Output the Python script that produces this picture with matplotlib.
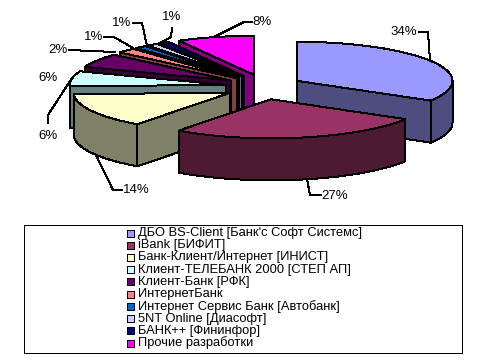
import numpy as np
import matplotlib
matplotlib.use("Agg")
import matplotlib.pyplot as plt

plt.rcParams['font.family'] = ['Liberation Sans', 'DejaVu Sans']

names = ["ДБО BS-Client [Банк'с Софт Системс]", "iBank [БИФИТ]",
         "Банк-Клиент/Интернет [ИНИСТ]", "Клиент-ТЕЛЕБАНК 2000 [СТЕП АП]",
         "Клиент-Банк [РФК]", "ИнтернетБанк",
         "Интернет Сервис Банк [Автобанк]", "5NT Online [Диасофт]",
         "БАНК++ [Фининфор]", "Прочие разработки"]
shares = [33.5, 26.6, 14.4, 6.2, 5.8, 2.0, 1.2, 1.2, 1.1, 8.0]
top_colors = ["#9999FF", "#993366", "#FFFFCC", "#CCFFFF", "#660066",
              "#FF8080", "#0066CC", "#CCCCFF", "#000080", "#FF00FF"]
side_colors = ["#4D4D80", "#4D1A33", "#808066", "#668080", "#330033",
               "#804040", "#003366", "#666680", "#000040", "#800080"]

# pie geometry, in pixels
CX, CY = 263.5, 87
RADIUS = 156
SQUASH = 0.25
DEPTH = 42
EXPLODE = 38
EXPLODE_SQUASH = 0.33
LW = 0.72  # one pixel


def arc_points(x0, y0, a0, a1):
    a = np.radians(np.linspace(a0, a1, 60))
    return x0 + RADIUS * np.sin(a), y0 - RADIUS * SQUASH * np.cos(a)


def draw_wall(ax, xs, ys, color):
    xs = np.asarray(xs)
    ys = np.asarray(ys)
    ax.fill(np.r_[xs, xs[::-1]], np.r_[ys, ys[::-1] + DEPTH], facecolor=color,
            edgecolor="black", lw=LW, antialiased=False)


def draw_slice(ax, a0, a1, top, side):
    mid = np.radians((a0 + a1) / 2)
    x0 = CX + EXPLODE * np.sin(mid)
    y0 = CY - EXPLODE * EXPLODE_SQUASH * np.cos(mid)
    ax_, ay_ = arc_points(x0, y0, a0, a1)
    # cut faces that look towards the viewer
    if np.sin(np.radians(a0)) < -1e-6:
        draw_wall(ax, [x0, ax_[0]], [y0, ay_[0]], side)
    if np.sin(np.radians(a1)) > 1e-6:
        draw_wall(ax, [x0, ax_[-1]], [y0, ay_[-1]], side)
    # front part of the rim
    lo, hi = max(a0, 90), min(a1, 270)
    if hi > lo:
        rx, ry = arc_points(x0, y0, lo, hi)
        draw_wall(ax, rx, ry, side)
    ax.fill(np.r_[x0, ax_], np.r_[y0, ay_], facecolor=top, edgecolor="black",
            lw=LW, antialiased=False)


fig = plt.figure(figsize=(4.97, 3.63), dpi=100)
ax = fig.add_axes([0, 0, 1, 1])
ax.set_xlim(0, 497)
ax.set_ylim(363, 0)
ax.axis("off")

edges = np.r_[0, np.cumsum(shares)] / sum(shares) * 360
mids = (edges[:-1] + edges[1:]) / 2
# back slices first
for i in sorted(range(len(shares)), key=lambda n: -np.cos(np.radians(mids[n]))):
    draw_slice(ax, edges[i], edges[i + 1], top_colors[i], side_colors[i])

# labels with their leader lines, same order as shares
label_pos = [(404, 32), (335, 196), (136, 190), (48, 78), (48, 136),
             (58, 50), (94, 37), (122, 23), (172, 17), (262, 22)]
leaders = [[(419, 32), (428, 32), (430, 60)],
           [(307, 179), (310, 195), (321, 195)],
           [(96, 155), (113, 190), (122, 190)],
           [],
           [(48, 123), (48, 115), (72, 78)],
           [(69, 50), (115, 52)],
           [(104, 37), (114, 37), (133, 48)],
           [(133, 23), (142, 23), (147, 46)],
           [(172, 28), (171, 37), (158, 44)],
           [(252, 22), (244, 22), (214, 37)]]
for share, pos, line in zip(shares, label_pos, leaders):
    ax.text(pos[0], pos[1], "%d%%" % round(share), ha="center", va="center",
            fontsize=9.5, color="black")
    if line:
        ax.plot(*zip(*line), color="black", lw=LW, antialiased=False)

# frame round the legend
ax.plot([24, 462, 462, 24, 24], [225, 225, 353, 353, 225], color="black", lw=LW,
        antialiased=False)

rows = np.linspace(233, 343, len(names))
for name, color, y in zip(names, top_colors, rows):
    ax.fill([127, 134, 134, 127], [y - 3.5, y - 3.5, y + 3.5, y + 3.5],
            facecolor=color, edgecolor="black", lw=LW, antialiased=False)
    ax.text(138, y, name, ha="left", va="center", fontsize=9.3, color="black")

fig.savefig("out.png", dpi=100)
